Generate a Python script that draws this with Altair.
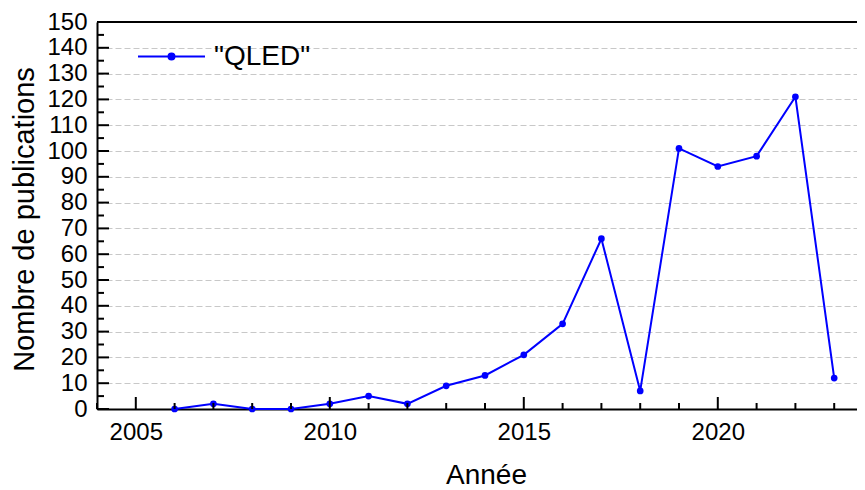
import altair as alt
import pandas as pd

# ---- data ----
years = [2006, 2007, 2008, 2009, 2010, 2011, 2012, 2013, 2014,
         2015, 2016, 2017, 2018, 2019, 2020, 2021, 2022, 2023]
counts = [0, 2, 0, 0, 2, 5, 2, 9, 13, 21, 33, 66, 7, 101, 94, 98, 121, 12]
series_name = '"QLED"'

x_major = [2005, 2010, 2015, 2020]
x_minor = [y for y in range(2004, 2024) if y not in x_major]
y_major = list(range(0, 151, 10))
y_minor = list(range(5, 150, 10))

W, H = 760, 387
FONT = "Liberation Sans"
BLUE = "#0000ff"

df = pd.DataFrame({"year": years, "count": counts, "series": [series_name] * len(years)})
xmaj = pd.DataFrame({"year": x_major})
xmin = pd.DataFrame({"year": x_minor})
ymaj = pd.DataFrame({"count": y_major})
ymin = pd.DataFrame({"count": y_minor})

xscale = alt.Scale(domain=[2004, 2004 + W / 38.8], nice=False, zero=False)
yscale = alt.Scale(domain=[0, 150], nice=False)

x_axis = alt.Axis(
    values=x_major, format="d", ticks=False, grid=False,
    labelFontSize=24, labelPadding=11, labelFont=FONT, labelColor="black",
    labelOverlap=False,
    title="Année", titleFontSize=28, titleFont=FONT, titleFontWeight="normal",
    titlePadding=17, titleColor="black", titleX=389,
    domainColor="black", domainWidth=2,
)
y_axis = alt.Axis(
    values=y_major, ticks=False, grid=True, gridColor="#c8c8c8", gridDash=[6, 3],
    gridWidth=1, labelOverlap=False,
    labelFontSize=24, labelPadding=10, labelFont=FONT, labelColor="black",
    title="Nombre de publications", titleFontSize=29, titleFont=FONT,
    titleFontWeight="normal", titlePadding=7, titleColor="black", titleY=197,
    domainColor="black", domainWidth=2,
)


def X():
    return alt.X("year:Q", scale=xscale, axis=x_axis)


def Y():
    return alt.Y("count:Q", scale=yscale, axis=y_axis)


color = alt.Color(
    "series:N",
    scale=alt.Scale(domain=[series_name], range=[BLUE]),
    legend=alt.Legend(
        title=None,
        orient="none",
        legendX=40,
        legendY=0,
        padding=0,
        symbolType="M-1,0H1M-0.09,0A0.09,0.09,0,1,1,0.09,0A0.09,0.09,0,1,1,-0.09,0Z",
        symbolSize=4489,
        symbolStrokeWidth=2,
        symbolFillColor=BLUE,
        symbolStrokeColor=BLUE,
        labelFont=FONT,
        labelFontSize=28,
        labelColor="black",
        labelOffset=8,
    ),
)

line = alt.Chart(df).mark_line(strokeWidth=2).encode(x=X(), y=Y(), color=color)
points = alt.Chart(df).mark_point(filled=True, size=45, opacity=1).encode(
    x=X(), y=Y(), color=color,
)

frame_top = alt.Chart(xmaj).mark_rule(color="black", strokeWidth=2).encode(
    x=alt.value(0), x2=alt.value(W), y=alt.value(0),
)
xmin_ticks = alt.Chart(xmin).mark_rule(color="black", strokeWidth=2).encode(
    x=X(), y=alt.value(H), y2=alt.value(H - 6),
)
xmaj_ticks = alt.Chart(xmaj).mark_rule(color="black", strokeWidth=2).encode(
    x=X(), y=alt.value(H), y2=alt.value(H - 12),
)
ymaj_ticks = alt.Chart(ymaj).mark_rule(color="black", strokeWidth=2).encode(
    y=Y(), x=alt.value(0), x2=alt.value(12),
)
ymin_ticks = alt.Chart(ymin).mark_rule(color="black", strokeWidth=2).encode(
    y=Y(), x=alt.value(0), x2=alt.value(7),
)

chart = alt.layer(line, points, frame_top, xmin_ticks, xmaj_ticks, ymaj_ticks, ymin_ticks).properties(
    width=W, height=H,
    autosize=alt.AutoSizeParams(type="none"),
    padding={"left": 89, "top": 14, "right": 0, "bottom": 79},
).configure_view(stroke=None).configure(background="white")

chart.save("out.html", embed_options={"renderer": "svg", "actions": False})
